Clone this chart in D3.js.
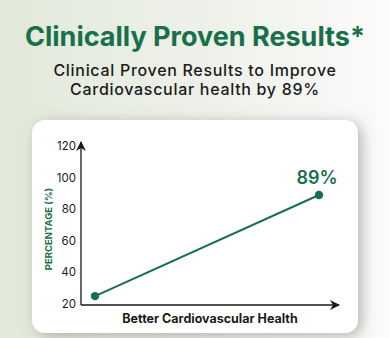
<!DOCTYPE html>
<html>
<head>
<meta charset="utf-8">
<script src="https://cdn.jsdelivr.net/npm/d3@7"></script>
<style>
  html, body { margin: 0; padding: 0; background: #fff; }
  svg { display: block; }
</style>
</head>
<body>
<svg id="chart"></svg>
<script>
  const width = 390;
  const height = 338;

  // chart data
  const stages = ["Before", "After"];
  const percentage = [25, 89];
  const yTicks = [20, 40, 60, 80, 100, 120];
  const titleText = "Clinically Proven Results*";
  const subtitleLines = ["Clinical Proven Results to Improve", "Cardiovascular health by 89%"];
  const xTitle = "Better Cardiovascular Health";
  const yTitle = "PERCENTAGE (%)";
  const pointLabel = "89%";

  const green = "#18704a";
  const font = "Inter, 'Open Sans', sans-serif";

  const svg = d3.select("#chart")
    .attr("width", width)
    .attr("height", height)
    .attr("viewBox", [0, 0, width, height]);

  const defs = svg.append("defs");

  // greenish wash on the left fading to white on the right
  const bg = defs.append("linearGradient").attr("id", "bg")
    .attr("x1", 0).attr("y1", 0).attr("x2", 1).attr("y2", 0);
  bg.append("stop").attr("offset", "0%").attr("stop-color", "#e2e9d9");
  bg.append("stop").attr("offset", "55%").attr("stop-color", "#eef1ea");
  bg.append("stop").attr("offset", "100%").attr("stop-color", "#fbfbfa");

  const shadow = defs.append("filter").attr("id", "shadow")
    .attr("x", "-20%").attr("y", "-20%").attr("width", "140%").attr("height", "140%");
  shadow.append("feDropShadow")
    .attr("dx", 4).attr("dy", 3)
    .attr("stdDeviation", 7)
    .attr("flood-color", "#6f6f68")
    .attr("flood-opacity", 0.5);

  const arrow = defs.append("marker").attr("id", "arrow")
    .attr("viewBox", "0 0 10 10")
    .attr("refX", 9).attr("refY", 5)
    .attr("markerWidth", 10).attr("markerHeight", 10)
    .attr("markerUnits", "userSpaceOnUse")
    .attr("orient", "auto");
  arrow.append("path").attr("d", "M0,0 L10,5 L0,10 L3,5 Z").attr("fill", "#1a1a1a");

  svg.append("rect").attr("width", width).attr("height", height).attr("fill", "url(#bg)");

  // titles
  svg.append("text")
    .attr("x", width / 2).attr("y", 46)
    .attr("text-anchor", "middle")
    .attr("font-family", font)
    .attr("font-weight", 700)
    .attr("font-size", 27)
    .attr("fill", green)
    .text(titleText);

  svg.selectAll(".subtitle")
    .data(subtitleLines)
    .enter()
    .append("text")
    .attr("class", "subtitle")
    .attr("x", width / 2)
    .attr("y", (d, i) => 76 + i * 19)
    .attr("text-anchor", "middle")
    .attr("font-family", font)
    .attr("font-weight", 500)
    .attr("font-size", 16)
    .attr("letter-spacing", 0.7)
    .attr("fill", "#1b1b1b")
    .text(d => d);

  // card
  svg.append("rect")
    .attr("x", 32).attr("y", 120)
    .attr("width", 326).attr("height", 213)
    .attr("rx", 13)
    .attr("fill", "#fff")
    .attr("filter", "url(#shadow)");

  const x = d3.scalePoint().domain(stages).range([95, 319]);
  const y = d3.scaleLinear().domain([20, 120]).range([304, 146]);

  const x0 = 81;
  const y0 = 305;

  // axes
  svg.append("line")
    .attr("x1", x0).attr("y1", y0)
    .attr("x2", x0).attr("y2", 142)
    .attr("stroke", "#1a1a1a").attr("stroke-width", 1.3)
    .attr("marker-end", "url(#arrow)");

  svg.append("line")
    .attr("x1", x0).attr("y1", y0)
    .attr("x2", 339).attr("y2", y0)
    .attr("stroke", "#1a1a1a").attr("stroke-width", 1.3)
    .attr("marker-end", "url(#arrow)");

  svg.selectAll(".ytick")
    .data(yTicks)
    .enter()
    .append("text")
    .attr("class", "ytick")
    .attr("x", 76)
    .attr("y", d => y(d))
    .attr("dy", "0.35em")
    .attr("text-anchor", "end")
    .attr("font-family", font)
    .attr("font-size", 11.5)
    .attr("fill", "#1b1b1b")
    .text(d => d);

  svg.append("text")
    .attr("transform", `translate(52,229) rotate(-90)`)
    .attr("text-anchor", "middle")
    .attr("font-family", font)
    .attr("font-weight", 700)
    .attr("font-size", 9.5)
    .attr("fill", green)
    .text(yTitle);

  svg.append("text")
    .attr("x", 210).attr("y", 323)
    .attr("text-anchor", "middle")
    .attr("font-family", font)
    .attr("font-weight", 700)
    .attr("font-size", 12.5)
    .attr("fill", "#1b1b1b")
    .text(xTitle);

  // line and points
  const pts = stages.map((s, i) => [x(s), y(percentage[i])]);

  svg.append("path")
    .attr("d", d3.line()(pts))
    .attr("fill", "none")
    .attr("stroke", green)
    .attr("stroke-width", 2);

  svg.selectAll(".dot")
    .data(pts)
    .enter()
    .append("circle")
    .attr("class", "dot")
    .attr("cx", d => d[0])
    .attr("cy", d => d[1])
    .attr("r", 4.2)
    .attr("fill", green);

  svg.append("text")
    .attr("x", x(stages[1]) - 2)
    .attr("y", y(percentage[1]) - 11)
    .attr("text-anchor", "middle")
    .attr("font-family", font)
    .attr("font-weight", 600)
    .attr("font-size", 18)
    .attr("fill", green)
    .text(pointLabel);
</script>
</body>
</html>
